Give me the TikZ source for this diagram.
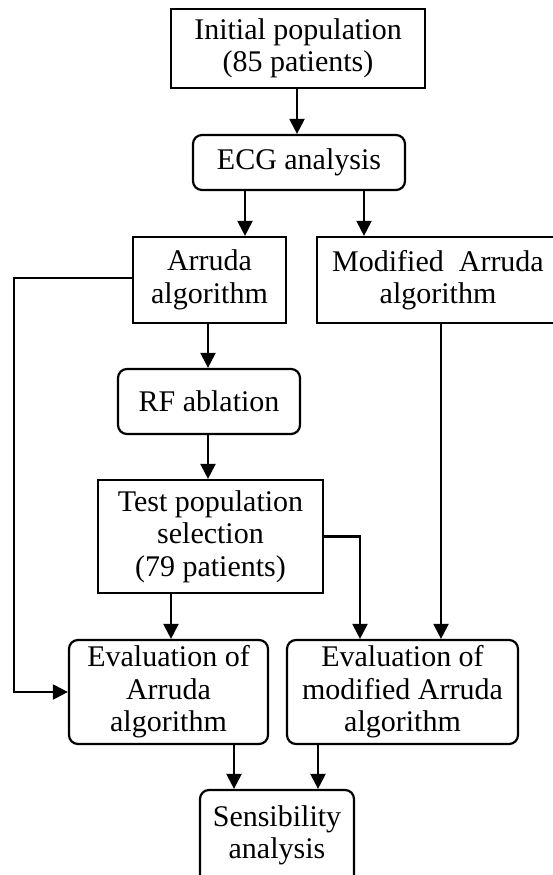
\documentclass[tikz,border=0pt]{standalone}
\usepackage{fontspec}
\setmainfont{Liberation Serif}
\usetikzlibrary{arrows.meta}
\tikzset{
  box/.style={draw, line width=2.2pt, rectangle, inner sep=0pt, align=center,
    font=\fontsize{30}{32.5}\selectfont},
  rbox/.style={box, rounded corners=9pt},
  arr/.style={line width=2.2pt, -{Triangle[length=15pt,width=15pt]}},
  ln/.style={line width=2.2pt}
}
\begin{document}
\begin{tikzpicture}[x=1pt,y=-1pt]
\useasboundingbox (0,0) rectangle (553,875);
\clip (0,0) rectangle (553,875);
\node[box, minimum width=254pt, minimum height=79pt] (init) at (298,48.5) {Initial population\\(85 patients)};
\node[rbox, minimum width=212pt, minimum height=55pt] (ecg) at (299,162.5) {ECG analysis};
\node[box, minimum width=153pt, minimum height=86pt] (arr) at (209.5,280) {Arruda\\algorithm};
\node[box, minimum width=242pt, minimum height=86pt] (mod) at (438,280) {Modified\ \ Arruda\\algorithm};
\node[rbox, minimum width=182pt, minimum height=65pt] (rf) at (209,401.5) {RF ablation};
\node[box, minimum width=225pt, minimum height=113pt] (test) at (210.5,536.5) {Test population\\selection\\(79 patients)};
\node[rbox, minimum width=199pt, minimum height=104pt] (ev1) at (168.5,692) {Evaluation of\\Arruda\\algorithm};
\node[rbox, minimum width=231pt, minimum height=104pt] (ev2) at (402.5,692) {Evaluation of\\modified Arruda\\algorithm};
\node[rbox, minimum width=154pt, minimum height=120pt] (sens) at (277,850) {Sensibility\\analysis\rule[-36pt]{0pt}{1pt}};

\draw[arr] (297,0 |- init.south) -- (297,0 |- ecg.north);
\draw[arr] (245,0 |- ecg.south) -- (245,0 |- arr.north);
\draw[arr] (364,0 |- ecg.south) -- (364,0 |- mod.north);
\draw[arr] (208,0 |- arr.south) -- (208,0 |- rf.north);
\draw[arr] (208,0 |- rf.south) -- (208,0 |- test.north);
\draw[arr] (171,0 |- test.south) -- (171,0 |- ev1.north);
\draw[arr] (arr.west |- 0,278) -- (14,278) -- (14,0 |- ev1.west) -- (ev1.west);
\draw[arr] (test.east) -- (360,0 |- test.east) -- (360,0 |- ev2.north);
\draw[arr] (441,0 |- mod.south) -- (441,0 |- ev2.north);
\draw[arr] (234,0 |- ev1.south) -- (234,0 |- sens.north);
\draw[arr] (318,0 |- ev2.south) -- (318,0 |- sens.north);
\end{tikzpicture}
\end{document}
